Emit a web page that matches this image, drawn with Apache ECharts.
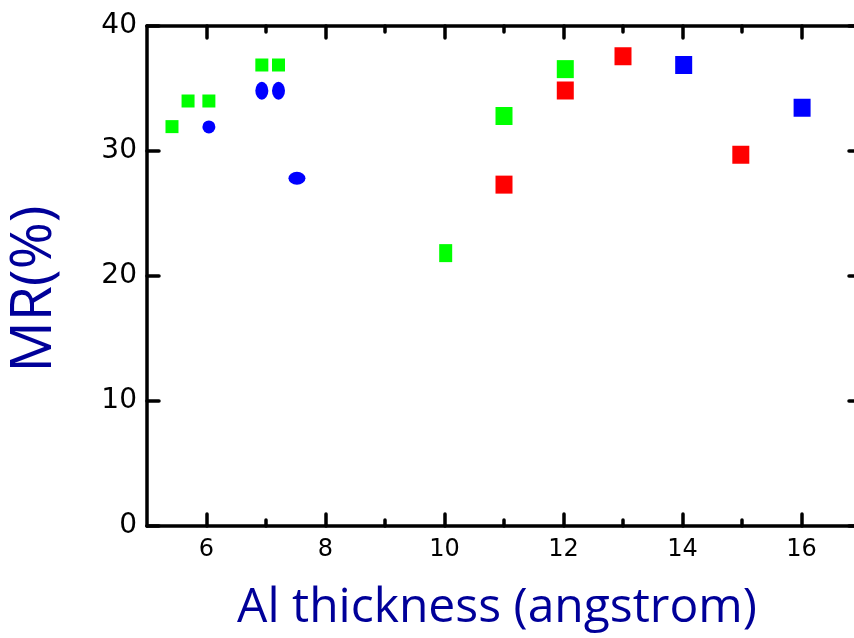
<!DOCTYPE html>
<html>
<head>
<meta charset="utf-8">
<script src="https://cdn.jsdelivr.net/npm/echarts@6/dist/echarts.min.js"></script>
<style>html,body{margin:0;padding:0;background:#fff;overflow:hidden;}#c{width:854px;height:638px;}</style>
</head>
<body>
<div id="c"></div>
<script>
// ---- data ----
var xMajorTicks = [6, 8, 10, 12, 14, 16];
var xMinorTicks = [7, 9, 11, 13, 15];
var yTicks = [0, 10, 20, 30, 40];

var greenSmall = [[5.42, 31.95], [5.69, 34.0], [6.04, 34.0], [6.93, 36.88], [7.21, 36.88]];
var blueCircle = [[6.04, 31.93]];
var blueTall = [[6.93, 34.82], [7.21, 34.82]];
var blueWide = [[7.52, 27.82]];
var greenTall = [[10.02, 21.83]];
var greenLarge = [[11.0, 32.8], [12.03, 36.55]];
var redSquares = [[11.0, 27.31], [12.03, 34.84], [13.0, 37.58], [14.98, 29.7]];
var blueSquares = [[14.02, 36.88], [16.01, 33.46]];

var xTitle = 'Al thickness (angstrom)';
var yTitle = 'MR(%)';

// ---- chart ----
var chart = echarts.init(document.getElementById('c'), null, {renderer: 'canvas'});
var AX = '#000';
var LW = 3.5;
var titleColor = '#000099';

function xAxisDef(pos, ticks, len, showLabel, showLine, name) {
  var a = {
    type: 'value', position: pos, min: 5, max: 17, interval: 1,
    splitLine: {show: false},
    axisLine: {show: showLine, onZero: false, lineStyle: {color: AX, width: LW}},
    axisTick: {show: true, inside: true, length: len, customValues: ticks,
               lineStyle: {color: AX, width: LW, cap: 'round'}},
    axisLabel: {show: showLabel, customValues: xMajorTicks, margin: 12,
                fontFamily: 'DejaVu Sans', fontSize: 24, color: '#000'}
  };
  if (name) {
    a.name = name; a.nameLocation = 'middle'; a.nameGap = 58;
    a.nameTextStyle = {fontFamily: 'Open Sans', fontSize: 48, color: titleColor, padding: [0, 14, 0, 0]};
  }
  return a;
}

var option = {
  animation: false,
  backgroundColor: '#fff',
  grid: {left: 147, top: 26, width: 714, bottom: 112, containLabel: false, outerBoundsMode: 'none'},
  xAxis: [
    xAxisDef('bottom', xMajorTicks, 12, true, true, xTitle),
    xAxisDef('bottom', xMinorTicks, 6, false, false),
    xAxisDef('top', xMajorTicks, 12, false, true),
    xAxisDef('top', xMinorTicks, 6, false, false)
  ],
  yAxis: [
    {
      type: 'value', position: 'left', min: 0, max: 40, interval: 10,
      splitLine: {show: false},
      axisLine: {show: true, onZero: false, lineStyle: {color: AX, width: LW}},
      axisTick: {show: true, inside: true, length: 12, lineStyle: {color: AX, width: LW, cap: 'round'}},
      axisLabel: {show: true, margin: 10, fontFamily: 'DejaVu Sans', fontSize: 28, color: '#000',
                  customValues: yTicks},
      name: yTitle, nameLocation: 'middle', nameGap: 84, nameRotate: 90,
      nameTextStyle: {fontFamily: 'Open Sans', fontSize: 57, color: titleColor, padding: [0, 26, 0, 0]}
    },
    {
      type: 'value', position: 'right', min: 0, max: 40, interval: 10,
      splitLine: {show: false},
      axisLine: {show: true, onZero: false, lineStyle: {color: AX, width: LW}},
      axisTick: {show: true, inside: true, length: 12, lineStyle: {color: AX, width: LW, cap: 'round'}},
      axisLabel: {show: false}
    }
  ],
  series: [
    {type: 'scatter', data: greenSmall, symbol: 'rect', symbolSize: 13, itemStyle: {color: '#00ff00', opacity: 1}},
    {type: 'scatter', data: blueCircle, symbol: 'circle', symbolSize: 13, itemStyle: {color: '#0000ff', opacity: 1}},
    {type: 'scatter', data: blueTall, symbol: 'circle', symbolSize: [13, 18], itemStyle: {color: '#0000ff', opacity: 1}},
    {type: 'scatter', data: blueWide, symbol: 'circle', symbolSize: [17, 13], itemStyle: {color: '#0000ff', opacity: 1}},
    {type: 'scatter', data: greenTall, symbol: 'rect', symbolSize: [13, 18], itemStyle: {color: '#00ff00', opacity: 1}},
    {type: 'scatter', data: greenLarge, symbol: 'rect', symbolSize: [17, 18], itemStyle: {color: '#00ff00', opacity: 1}},
    {type: 'scatter', data: redSquares, symbol: 'rect', symbolSize: [17, 18], itemStyle: {color: '#ff0000', opacity: 1}},
    {type: 'scatter', data: blueSquares, symbol: 'rect', symbolSize: [17, 18], itemStyle: {color: '#0000ff', opacity: 1}}
  ]
};
chart.setOption(option);
</script>
</body>
</html>
